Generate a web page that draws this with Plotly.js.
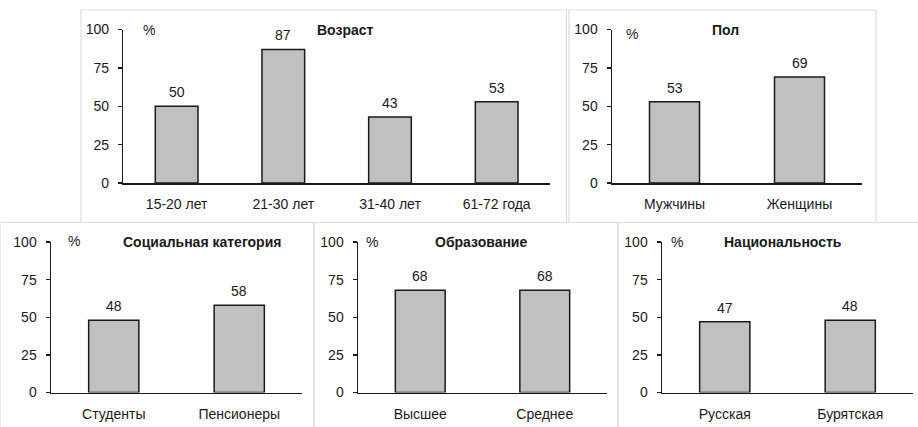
<!DOCTYPE html>
<html>
<head>
<meta charset="utf-8">
<script src="https://cdn.plot.ly/plotly-3.0.1.min.js"></script>
<style>html,body{margin:0;padding:0;background:#fff;}#chart{width:918px;height:427px;}</style>
</head>
<body>
<div id="chart"></div>
<script>
// ---- data ----
const ageCategories = ['15-20 лет', '21-30 лет', '31-40 лет', '61-72 года'];
const ageValues = [50, 87, 43, 53];
const sexCategories = ['Мужчины', 'Женщины'];
const sexValues = [53, 69];
const socialCategories = ['Студенты', 'Пенсионеры'];
const socialValues = [48, 58];
const eduCategories = ['Высшее', 'Среднее'];
const eduValues = [68, 68];
const natCategories = ['Русская', 'Бурятская'];
const natValues = [47, 48];
const yTickValues = [0, 25, 50, 75, 100];
const panelTitles = ['Возраст', 'Пол', 'Социальная категория', 'Образование', 'Национальность'];
const unitLabel = '%';

// ---- layout helpers ----
const W = 918, H = 427;
const fx = v => v / W;
const fy = v => 1 - v / H;
const FONT = '"Liberation Sans", Arial, sans-serif';
const FS = 14;

const panels = [
  {cats: ageCategories, vals: ageValues, x: [123.3, 550], y: [29.5, 183], title: [345, 30], pct: [149, 30]},
  {cats: sexCategories, vals: sexValues, x: [612, 862], y: [29.5, 183], title: [725, 30], pct: [632, 34]},
  {cats: socialCategories, vals: socialValues, x: [51, 302], y: [242, 392.5], title: [202, 242], pct: [74, 241]},
  {cats: eduCategories, vals: eduValues, x: [358, 607], y: [242, 392.5], title: [481, 242], pct: [372, 242]},
  {cats: natCategories, vals: natValues, x: [662, 913], y: [242, 392.5], title: [783, 242], pct: [677, 242]}
];

const traces = [];
const layout = {
  width: W, height: H,
  margin: {l: 0, r: 0, t: 0, b: 0},
  paper_bgcolor: '#ffffff', plot_bgcolor: 'rgba(0,0,0,0)',
  showlegend: false,
  font: {family: FONT, size: FS, color: '#1a1a1a'},
  annotations: [],
  shapes: []
};

panels.forEach((p, i) => {
  const n = i + 1;
  const xa = 'x' + (n === 1 ? '' : n), ya = 'y' + (n === 1 ? '' : n);
  const xk = 'xaxis' + (n === 1 ? '' : n), yk = 'yaxis' + (n === 1 ? '' : n);
  traces.push({
    type: 'bar', x: p.cats, y: p.vals, xaxis: xa, yaxis: ya,
    width: 0.4,
    marker: {color: '#c0c0c0', line: {color: '#1a1a1a', width: 1.5}},
    hoverinfo: 'none'
  });
  layout[xk] = {
    domain: [fx(p.x[0]), fx(p.x[1])], anchor: ya,
    type: 'category', range: [-0.5, p.cats.length - 0.5],
    showline: true, linecolor: '#1a1a1a', linewidth: 1.5,
    ticks: '', showgrid: false, zeroline: false, fixedrange: true,
    tickfont: {family: FONT, size: FS, color: '#1a1a1a'},
    ticklabelstandoff: 8
  };
  layout[yk] = {
    domain: [fy(p.y[1]), fy(p.y[0])], anchor: xa,
    range: [0, 100], tickvals: yTickValues, ticktext: yTickValues.map(String),
    showline: true, linecolor: '#1a1a1a', linewidth: 1.5,
    ticks: 'outside', ticklen: 4, tickwidth: 1.5, tickcolor: '#1a1a1a',
    showgrid: false, zeroline: false, fixedrange: true,
    tickfont: {family: FONT, size: FS, color: '#1a1a1a'},
    ticklabelstandoff: 6
  };
  // value labels
  p.cats.forEach((c, k) => {
    layout.annotations.push({
      xref: xa, yref: ya, x: c, y: p.vals[k], text: String(p.vals[k]),
      showarrow: false, yanchor: 'bottom', xanchor: 'center', yshift: 4,
      font: {family: FONT, size: FS, color: '#1a1a1a'}
    });
  });
  // panel title
  layout.annotations.push({
    xref: 'paper', yref: 'paper', x: fx(p.title[0]), y: fy(p.title[1]),
    text: '<b>' + panelTitles[i] + '</b>', showarrow: false,
    xanchor: 'center', yanchor: 'middle',
    font: {family: FONT, size: FS, color: '#1a1a1a'}
  });
  // % label
  layout.annotations.push({
    xref: 'paper', yref: 'paper', x: fx(p.pct[0]), y: fy(p.pct[1]),
    text: unitLabel, showarrow: false, xanchor: 'center', yanchor: 'middle',
    font: {family: FONT, size: FS, color: '#1a1a1a'}
  });
});

// frames around panels
const frames = [
  [81, 10, 566.5, 222.5],
  [569, 10, 876, 222.5],
  [0, 222.5, 314, 440],
  [314, 222.5, 618, 440],
  [618, 222.5, 930, 440]
];
frames.forEach(f => {
  layout.shapes.push({
    type: 'rect', xref: 'paper', yref: 'paper',
    x0: fx(f[0]), x1: fx(f[2]), y0: fy(f[3]), y1: fy(f[1]),
    line: {color: '#dcdcdc', width: 1.2}, fillcolor: 'rgba(0,0,0,0)', layer: 'below'
  });
});

Plotly.newPlot('chart', traces, layout, {displayModeBar: false, staticPlot: true});
</script>
</body>
</html>
